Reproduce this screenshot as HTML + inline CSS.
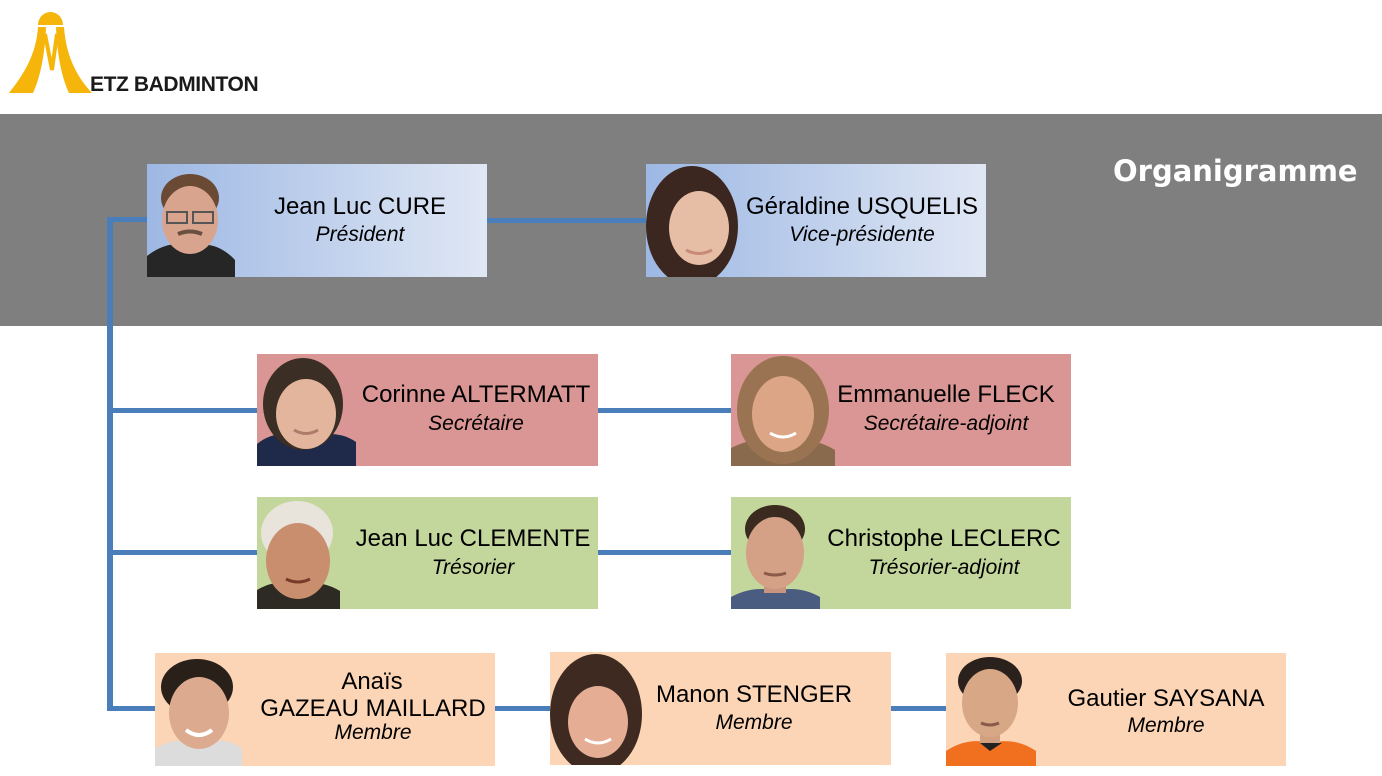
<!DOCTYPE html>
<html><head><meta charset="utf-8">
<style>
html,body{margin:0;padding:0;}
body{width:1382px;height:776px;position:relative;overflow:hidden;background:#fff;font-family:"Liberation Sans",Arial,sans-serif;}
.abs{position:absolute;}
.band{left:0;top:114px;width:1382px;height:212px;background:#7f7f7f;}
.ln{position:absolute;background:#4a7ebb;}
.card{position:absolute;overflow:hidden;}
.blue{background:linear-gradient(to right,#9db8e4,#e0e7f4);}
.pink{background:#d99694;}
.green{background:#c3d69b;}
.peach{background:#fbd5b5;}
.card svg{position:absolute;left:0;top:0;}
.nm{position:absolute;width:400px;text-align:center;font-size:24px;line-height:28px;color:#000;white-space:nowrap;}
.rl{position:absolute;width:400px;text-align:center;font-size:21px;line-height:25px;font-style:italic;color:#000;white-space:nowrap;}
</style></head><body>

<!-- logo -->
<svg class="abs" style="left:0;top:0" width="280" height="110" viewBox="0 0 280 110">
  <path d="M38,25 A12.5,13 0 0 1 63,25 Z" fill="#f5b50a"/>
  <path d="M38,27 L46,27 C45,55 40,78 33,93 L9,93 C24,74 36,55 38,27 Z" fill="#f5b50a"/>
  <path d="M56,27 L64,27 C66,55 76,76 92,93 L69,93 C62,78 57,55 56,27 Z" fill="#f5b50a"/>
  <path d="M45,34 L52,70 L57,34" fill="none" stroke="#f5b50a" stroke-width="4"/>
</svg>
<div class="abs" style="left:90px;top:73px;font-size:21px;font-weight:bold;line-height:24px;letter-spacing:-0.4px;color:#1a1a1a;white-space:nowrap;">ETZ BADMINTON</div>

<div class="abs band"></div>
<div class="abs" style="left:1113px;top:154px;font-family:'DejaVu Sans','Liberation Sans',sans-serif;font-weight:bold;font-size:29px;line-height:34px;color:#fff;white-space:nowrap;">Organigramme</div>

<!-- connectors -->
<div class="ln" style="left:107px;top:217px;width:6px;height:494px;"></div>
<div class="ln" style="left:107px;top:217px;width:42px;height:5px;"></div>
<div class="ln" style="left:485px;top:218px;width:163px;height:5px;"></div>
<div class="ln" style="left:107px;top:408px;width:152px;height:5px;"></div>
<div class="ln" style="left:596px;top:408px;width:137px;height:5px;"></div>
<div class="ln" style="left:107px;top:550px;width:152px;height:5px;"></div>
<div class="ln" style="left:596px;top:550px;width:137px;height:5px;"></div>
<div class="ln" style="left:107px;top:706px;width:50px;height:5px;"></div>
<div class="ln" style="left:493px;top:706px;width:59px;height:5px;"></div>
<div class="ln" style="left:888px;top:706px;width:60px;height:5px;"></div>

<!-- Card 1 -->
<div class="card blue" style="left:147px;top:164px;width:340px;height:113px;">
<svg width="88" height="113"><path d="M0,113 L0,92 C15,80 30,78 44,82 C60,78 75,82 88,96 L88,113 Z" fill="#262626"/>
<rect x="33" y="72" width="20" height="16" fill="#c99580"/>
<ellipse cx="43" cy="34" rx="29" ry="24" fill="#6b4a35"/>
<ellipse cx="43" cy="56" rx="28" ry="34" fill="#d9a48e"/>
<rect x="20" y="48" width="20" height="11" fill="none" stroke="#555" stroke-width="2"/><rect x="46" y="48" width="20" height="11" fill="none" stroke="#555" stroke-width="2"/>
<path d="M31,70 Q43,65 55,70" stroke="#6a5040" stroke-width="4" fill="none"/></svg>
</div>
<div class="nm" style="left:160px;top:193px;">Jean Luc CURE</div>
<div class="rl" style="left:160px;top:222px;">Président</div>

<!-- Card 2 -->
<div class="card blue" style="left:646px;top:164px;width:340px;height:113px;">
<svg width="96" height="113"><ellipse cx="46" cy="62" rx="46" ry="60" fill="#3b2720"/>
<ellipse cx="53" cy="64" rx="30" ry="37" fill="#e6bea6"/>
<path d="M40,86 Q53,93 66,86" stroke="#c98a7a" stroke-width="3" fill="none"/></svg>
</div>
<div class="nm" style="left:662px;top:193px;">Géraldine USQUELIS</div>
<div class="rl" style="left:662px;top:222px;">Vice-présidente</div>

<!-- Card 3 -->
<div class="card pink" style="left:257px;top:354px;width:341px;height:112px;">
<svg width="99" height="112"><path d="M0,112 L0,90 C15,78 30,78 48,84 C66,78 85,78 99,88 L99,112 Z" fill="#1f2a4a"/>
<ellipse cx="46" cy="50" rx="40" ry="46" fill="#3a2e25"/>
<ellipse cx="49" cy="60" rx="30" ry="35" fill="#e2b59c"/>
<path d="M37,76 Q49,83 61,76" stroke="#b07a6a" stroke-width="3" fill="none"/></svg>
</div>
<div class="nm" style="left:276px;top:381px;">Corinne ALTERMATT</div>
<div class="rl" style="left:276px;top:411px;">Secrétaire</div>

<!-- Card 4 -->
<div class="card pink" style="left:731px;top:354px;width:340px;height:112px;">
<svg width="104" height="112"><path d="M0,112 L0,94 C20,84 36,84 52,88 C70,84 88,86 104,96 L104,112 Z" fill="#8a6a4c"/>
<ellipse cx="52" cy="56" rx="46" ry="54" fill="#9a7452"/>
<ellipse cx="52" cy="60" rx="31" ry="38" fill="#dba586"/>
<path d="M39,79 Q52,87 65,79" stroke="#fff" stroke-width="3" fill="none"/></svg>
</div>
<div class="nm" style="left:746px;top:381px;">Emmanuelle FLECK</div>
<div class="rl" style="left:746px;top:411px;">Secrétaire-adjoint</div>

<!-- Card 5 -->
<div class="card green" style="left:257px;top:497px;width:341px;height:112px;">
<svg width="83" height="112"><path d="M0,112 L0,93 C15,84 28,84 40,88 C55,84 70,86 83,94 L83,112 Z" fill="#2c2a22"/>
<ellipse cx="40" cy="36" rx="36" ry="32" fill="#e8e4dc"/>
<ellipse cx="41" cy="64" rx="32" ry="38" fill="#c98e6e"/>
<path d="M29,82 Q41,88 53,82" stroke="#7a3a2a" stroke-width="3" fill="none"/></svg>
</div>
<div class="nm" style="left:273px;top:525px;">Jean Luc CLEMENTE</div>
<div class="rl" style="left:273px;top:555px;">Trésorier</div>

<!-- Card 6 -->
<div class="card green" style="left:731px;top:497px;width:340px;height:112px;">
<svg width="89" height="112"><path d="M0,112 L0,100 C15,92 30,90 44,94 C60,90 75,92 89,100 L89,112 Z" fill="#4a5c80"/>
<rect x="33" y="80" width="22" height="16" fill="#c99580"/>
<ellipse cx="44" cy="32" rx="30" ry="24" fill="#3a2a20"/>
<ellipse cx="44" cy="56" rx="29" ry="36" fill="#d4a086"/>
<path d="M33,76 Q44,80 55,76" stroke="#8a5a4a" stroke-width="3" fill="none"/></svg>
</div>
<div class="nm" style="left:744px;top:525px;">Christophe LECLERC</div>
<div class="rl" style="left:744px;top:555px;">Trésorier-adjoint</div>

<!-- Card 7 -->
<div class="card peach" style="left:155px;top:653px;width:340px;height:113px;">
<svg width="87" height="113"><path d="M0,113 L0,96 C15,86 30,86 44,90 C60,86 75,86 87,96 L87,113 Z" fill="#dcdcdc"/>
<ellipse cx="42" cy="34" rx="36" ry="28" fill="#2a201a"/>
<ellipse cx="44" cy="60" rx="30" ry="36" fill="#dcaa8e"/>
<path d="M31,77 Q44,87 57,77" stroke="#fff" stroke-width="4" fill="none"/></svg>
</div>
<div class="nm" style="left:172px;top:668px;">Anaïs</div>
<div class="nm" style="left:173px;top:695px;">GAZEAU MAILLARD</div>
<div class="rl" style="left:173px;top:720px;">Membre</div>

<!-- Card 8 -->
<div class="card peach" style="left:550px;top:652px;width:341px;height:113px;">
<svg width="94" height="113"><ellipse cx="46" cy="62" rx="46" ry="60" fill="#3e2a20"/>
<ellipse cx="48" cy="70" rx="30" ry="36" fill="#e4ad94"/>
<path d="M35,87 Q48,95 61,87" stroke="#fff" stroke-width="3" fill="none"/></svg>
</div>
<div class="nm" style="left:554px;top:681px;">Manon STENGER</div>
<div class="rl" style="left:554px;top:710px;">Membre</div>

<!-- Card 9 -->
<div class="card peach" style="left:946px;top:653px;width:340px;height:113px;">
<svg width="90" height="113"><path d="M0,113 L0,98 C15,88 30,86 44,90 C60,86 75,88 90,98 L90,113 Z" fill="#f07020"/>
<path d="M34,90 L44,98 L56,90 Z" fill="#222"/>
<rect x="34" y="70" width="20" height="20" fill="#d0a080"/>
<ellipse cx="44" cy="28" rx="32" ry="24" fill="#2a201c"/>
<ellipse cx="44" cy="50" rx="28" ry="34" fill="#d8a886"/>
<path d="M35,70 Q44,74 53,70" stroke="#8a5a4a" stroke-width="3" fill="none"/></svg>
</div>
<div class="nm" style="left:966px;top:685px;">Gautier SAYSANA</div>
<div class="rl" style="left:966px;top:713px;">Membre</div>

</body></html>
